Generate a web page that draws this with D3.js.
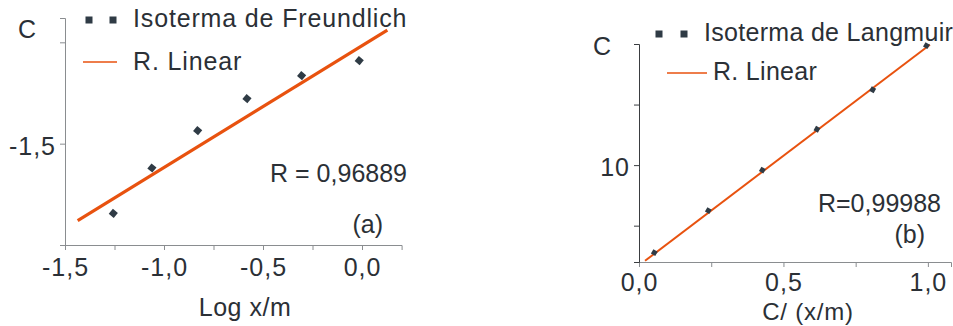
<!DOCTYPE html>
<html>
<head>
<meta charset="utf-8">
<script src="https://cdn.jsdelivr.net/npm/d3@7"></script>
<style>
  html, body { margin: 0; padding: 0; background: #fff; }
  svg text { font-family: "Liberation Sans", Arial, sans-serif; fill: #2b3036; }
</style>
</head>
<body>
<svg id="chart" width="953" height="326"></svg>
<script>
// Freundlich isotherm: log C vs log x/m
const freundX = [-1.256, -1.061, -0.830, -0.581, -0.305, -0.014];
const freundY = [-1.672, -1.560, -1.468, -1.389, -1.332, -1.295];
const freundFitX = [-1.436, 0.128];
const freundFitY = [-1.690, -1.220];

// Langmuir isotherm: C/(x/m) vs C
const langX = [0.053, 0.240, 0.427, 0.616, 0.809, 0.995];
const langY = [6.39, 8.12, 9.79, 11.48, 13.11, 14.93];
const langFitX = [0.021, 1.007];
const langFitY = [6.05, 14.97];

const freundXTicks = [-1.5, -1.25, -1.0, -0.75, -0.5, -0.25, 0.0];
const freundXLabels = ["-1,5", "", "-1,0", "", "-0,5", "", "0,0"];
const freundYTicks = [-1.75, -1.5, -1.25];
const freundYLabels = ["", "-1,5", ""];

const langXTicks = [0, 0.25, 0.5, 0.75, 1.0];
const langXLabels = ["0,0", "", "0,5", "", "1,0"];
const langYTicks = [7.5, 10, 12.5, 15];
const langYLabels = ["", "10", "", ""];

const ORANGE = "#e8520f";
const MARK = "#2f3b45";
const TEXT = "#2b3036";

const svg = d3.select("#chart");

function panel(cfg) {
  const g = svg.append("g");
  const x = d3.scaleLinear().domain(cfg.xDomain).range(cfg.xRange);
  const y = d3.scaleLinear().domain(cfg.yDomain).range(cfg.yRange);

  const xAxis = d3.axisBottom(x).tickValues(cfg.xTicks)
    .tickFormat((d, i) => cfg.xLabels[i]).tickSize(5).tickPadding(cfg.xPad);
  const gx = g.append("g").attr("transform", `translate(0,${cfg.yRange[0]})`).call(xAxis);
  gx.select(".domain").attr("stroke", cfg.xAxisColor);
  gx.selectAll(".tick line").attr("stroke", cfg.xAxisColor);
  gx.selectAll(".tick text").style("font-size", "25px").attr("fill", TEXT)
    .attr("dy", "0.71em").style("letter-spacing", "1px");

  const yAxis = d3.axisLeft(y).tickValues(cfg.yTicks)
    .tickFormat((d, i) => cfg.yLabels[i]).tickSize(5).tickPadding(4);
  const gy = g.append("g").attr("transform", `translate(${cfg.xRange[0]},0)`).call(yAxis);
  gy.select(".domain").attr("stroke", cfg.yAxisColor);
  gy.selectAll(".tick line").attr("stroke", cfg.yAxisColor);
  gy.selectAll(".tick text").style("font-size", "25px").attr("fill", TEXT)
    .attr("dy", "0.42em").style("letter-spacing", "1px");

  // fitted regression line
  const line = d3.line().x(d => x(d[0])).y(d => y(d[1]));
  g.append("path").datum(d3.zip(cfg.fitX, cfg.fitY))
    .attr("d", line).attr("fill", "none")
    .attr("stroke", ORANGE).attr("stroke-width", cfg.lineWidth);

  // experimental points
  const s = cfg.markSize;
  g.selectAll("rect.pt").data(d3.zip(cfg.px, cfg.py)).join("rect")
    .attr("class", "pt")
    .attr("x", -s / 2).attr("y", -s / 2).attr("width", s).attr("height", s)
    .attr("fill", MARK)
    .attr("transform", d => `translate(${x(d[0])},${y(d[1])}) rotate(${cfg.markRot})`);

  // legend
  const lg = cfg.legend;
  [0, 1].forEach(k => {
    g.append("rect").attr("x", lg.mx[k] - 3.5).attr("y", lg.my - 3.5)
      .attr("width", 7).attr("height", 7).attr("fill", MARK);
  });
  g.append("text").attr("x", lg.tx).attr("y", lg.ty1)
    .style("font-size", "25px").style("letter-spacing", lg.ls + "px").text(lg.title);
  g.append("line").attr("x1", lg.lx1).attr("x2", lg.lx2)
    .attr("y1", lg.ly).attr("y2", lg.ly).attr("stroke", ORANGE).attr("stroke-width", 1.5);
  g.append("text").attr("x", lg.tx2).attr("y", lg.ty2)
    .style("font-size", "25px").style("letter-spacing", lg.ls + "px").text("R. Linear");

  // annotations
  cfg.notes.forEach(n => {
    g.append("text").attr("x", n.x).attr("y", n.y).attr("text-anchor", n.anchor || "start")
      .style("font-size", (n.fs || 25) + "px").style("letter-spacing", (n.ls || 0) + "px").text(n.t);
  });
}

panel({
  xDomain: [-1.5, 0.2], xRange: [65, 401.6],
  yDomain: [-1.75, -1.19], yRange: [245, 18],
  xTicks: freundXTicks, xLabels: freundXLabels, xPad: 8,
  yTicks: freundYTicks, yLabels: freundYLabels,
  xAxisColor: "#8a8d90", yAxisColor: "#8a8d90",
  fitX: freundFitX, fitY: freundFitY, lineWidth: 3.2,
  px: freundX, py: freundY, markSize: 6.5, markRot: 40,
  legend: { mx: [89, 113], my: 20, tx: 133, ty1: 27, lx1: 83, lx2: 117, ly: 62, tx2: 133, ty2: 70,
            title: "Isoterma de Freundlich", ls: 0.85 },
  notes: [
    { t: "C", x: 18, y: 38 },
    { t: "R = 0,96889", x: 407, y: 182, anchor: "end" },
    { t: "(a)", x: 383, y: 233, anchor: "end" },
    { t: "Log x/m", x: 245, y: 316, anchor: "middle", ls: 0.5 }
  ]
});

panel({
  xDomain: [0, 1.08], xRange: [639, 951],
  yDomain: [6, 15], yRange: [262, 44],
  xTicks: langXTicks, xLabels: langXLabels, xPad: 6,
  yTicks: langYTicks, yLabels: langYLabels,
  xAxisColor: "#8a8d90", yAxisColor: "#3a3d40",
  fitX: langFitX, fitY: langFitY, lineWidth: 2,
  px: langX, py: langY, markSize: 5, markRot: 30,
  legend: { mx: [659, 684], my: 34, tx: 704, ty1: 41, lx1: 667, lx2: 707, ly: 73, tx2: 713, ty2: 80,
            title: "Isoterma de Langmuir", ls: 0.3 },
  notes: [
    { t: "C", x: 593, y: 55 },
    { t: "R=0,99988", x: 941, y: 212, anchor: "end" },
    { t: "(b)", x: 925, y: 243, anchor: "end" },
    { t: "C/ (x/m)", x: 808, y: 320, anchor: "middle", ls: 0.8, fs: 24 }
  ]
});
</script>
</body>
</html>
